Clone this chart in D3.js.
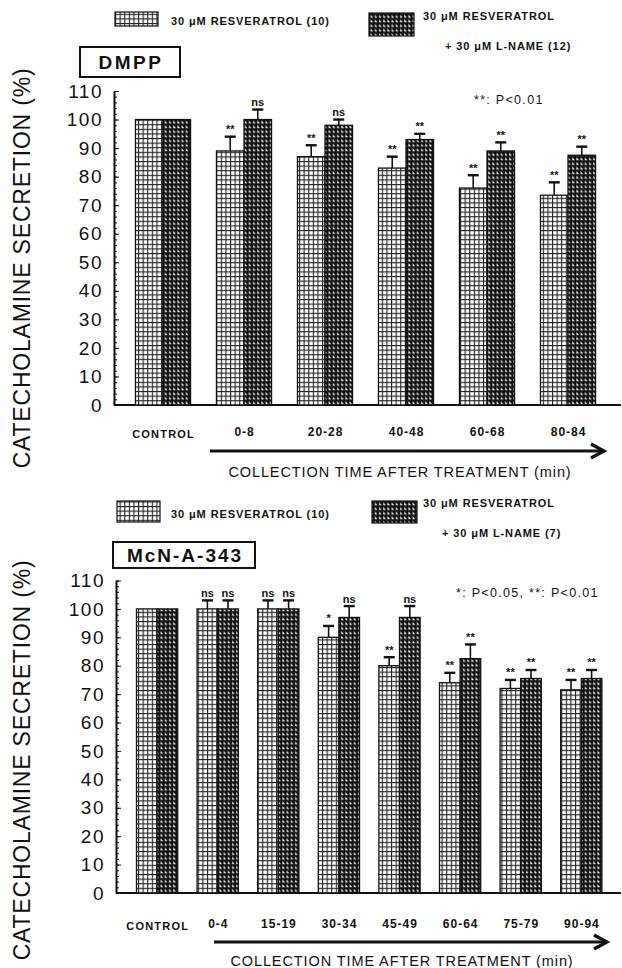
<!DOCTYPE html>
<html>
<head>
<meta charset="utf-8">
<script src="https://cdn.jsdelivr.net/npm/d3@7"></script>
<style>
  html, body { margin: 0; padding: 0; background: #fff; }
  svg { display: block; }
  text { font-family: "Liberation Sans", Arial, Helvetica, sans-serif; fill: #111; }
</style>
</head>
<body>
<svg id="chart" width="622" height="968"></svg>
<script>
// ---------------- DATA ----------------
const catsTop = ["CONTROL", "0-8", "20-28", "40-48", "60-68", "80-84"];
const resTop = [100, 89, 87, 83, 76, 73.5];
const resTopErr = [0, 5, 4, 4, 4.5, 4.5];
const resTopSig = ["", "**", "**", "**", "**", "**"];
const lnTop = [100, 100, 98, 93, 89, 87.5];
const lnTopErr = [0, 3.5, 2, 2, 3, 3];
const lnTopSig = ["", "ns", "ns", "**", "**", "**"];

const catsBot = ["CONTROL", "0-4", "15-19", "30-34", "45-49", "60-64", "75-79", "90-94"];
const resBot = [100, 100, 100, 90, 80, 74, 72, 71.5];
const resBotErr = [0, 3, 3, 4, 3, 3.5, 3, 3.5];
const resBotSig = ["", "ns", "ns", "*", "**", "**", "**", "**"];
const lnBot = [100, 100, 100, 97, 97, 82.5, 75.5, 75.5];
const lnBotErr = [0, 3, 3, 4, 4, 5, 3, 3];
const lnBotSig = ["", "ns", "ns", "ns", "ns", "**", "**", "**"];

const yMajor = [0, 10, 20, 30, 40, 50, 60, 70, 80, 90, 100, 110];
const yMinor = d3.range(0, 111, 2);

const seriesNames = ["30 μM RESVERATROL (10)", "30 μM RESVERATROL"];
const lnameTop = "+ 30 μM L-NAME (12)";
const lnameBot = "+ 30 μM L-NAME (7)";
const xTitle = "COLLECTION TIME AFTER TREATMENT (min)";
const yTitle = "CATECHOLAMINE SECRETION (%)";

// ---------------- PATTERNS ----------------
const svg = d3.select("#chart");
const defs = svg.append("defs");

const pg = defs.append("pattern").attr("id", "grid")
  .attr("patternUnits", "userSpaceOnUse").attr("width", 4.6).attr("height", 4.6);
pg.append("rect").attr("width", 4.6).attr("height", 4.6).attr("fill", "#fff");
pg.append("rect").attr("x", 0).attr("y", 0).attr("width", 1.1).attr("height", 4.6).attr("fill", "#222");
pg.append("rect").attr("x", 0).attr("y", 0).attr("width", 4.6).attr("height", 1.1).attr("fill", "#222");

const pt = defs.append("pattern").attr("id", "tri")
  .attr("patternUnits", "userSpaceOnUse").attr("width", 4.2).attr("height", 4.6);
pt.append("rect").attr("width", 4.2).attr("height", 4.6).attr("fill", "#111");
pt.append("polygon").attr("points", "1.1,1.0 1.1,3.9 3.6,3.9").attr("fill", "#fff");

// ---------------- PANEL ----------------
function panel(opt) {
  const g = svg.append("g");
  const y = d3.scaleLinear().domain([0, 110]).range([opt.y0, opt.y110]);
  const x = d3.scaleBand().domain(opt.cats).range(opt.xr)
    .paddingInner(0.32).paddingOuter(0.16);
  const xs = d3.scaleBand().domain([0, 1]).range([0, x.bandwidth()]);

  // axes
  const axMinor = d3.axisLeft(y).tickValues(yMinor).tickSizeInner(-3).tickSizeOuter(0).tickFormat("");
  const axMajor = d3.axisLeft(y).tickValues(yMajor).tickSizeInner(-5).tickSizeOuter(0).tickPadding(11);
  g.append("g").attr("transform", `translate(${opt.ax},0)`).call(axMinor);
  const gM = g.append("g").attr("transform", `translate(${opt.ax},0)`).call(axMajor);
  g.selectAll(".domain").attr("stroke", "#111").attr("stroke-width", 1.6);
  g.selectAll(".tick line").attr("stroke", "#111").attr("stroke-width", 1);
  gM.selectAll(".tick text").style("font-size", "19px").style("letter-spacing", "1.5px")
    .style("font-family", "'Liberation Sans', Arial, sans-serif").attr("fill", "#111");

  // x baseline
  g.append("line").attr("x1", opt.ax).attr("x2", 621).attr("y1", y(0)).attr("y2", y(0))
    .attr("stroke", "#111").attr("stroke-width", 1.8);

  const series = [
    { v: opt.res, e: opt.resErr, s: opt.resSig, fill: "url(#grid)" },
    { v: opt.ln, e: opt.lnErr, s: opt.lnSig, fill: "url(#tri)" }
  ];
  series.forEach((se, si) => {
    const gg = g.append("g");
    opt.cats.forEach((c, i) => {
      const bx = x(c) + xs(si), bw = xs.bandwidth();
      const top = y(se.v[i]);
      gg.append("rect").attr("x", bx).attr("y", top).attr("width", bw).attr("height", y(0) - top)
        .attr("fill", se.fill).attr("stroke", "#111").attr("stroke-width", 1.3);
      if (se.e[i] > 0) {
        const cx = bx + bw / 2, et = y(se.v[i] + se.e[i]);
        gg.append("line").attr("x1", cx).attr("x2", cx).attr("y1", top).attr("y2", et)
          .attr("stroke", "#111").attr("stroke-width", 1.6);
        gg.append("line").attr("x1", cx - 5.5).attr("x2", cx + 5.5).attr("y1", et).attr("y2", et)
          .attr("stroke", "#111").attr("stroke-width", 2.4);
        gg.append("text").attr("x", cx).attr("y", et - 3.5).attr("text-anchor", "middle")
          .style("font-size", "11px").style("font-weight", "bold").attr("fill", "#000")
          .text(se.s[i]);
      }
    });
  });

  // x labels
  opt.cats.forEach((c, i) => {
    g.append("text").attr("x", x(c) + x.bandwidth() / 2 + 0.6).attr("y", i === 0 ? opt.labY : opt.labY - 2)
      .attr("text-anchor", "middle")
      .style("font-size", i === 0 ? "11px" : "12px").style("font-weight", "bold")
      .style("letter-spacing", i === 0 ? "1.2px" : "1px")
      .text(c);
  });

  // arrow
  g.append("line").attr("x1", opt.arrX0).attr("x2", opt.arrX1 - 3).attr("y1", opt.arrY).attr("y2", opt.arrY)
    .attr("stroke", "#111").attr("stroke-width", 3);
  g.append("path").attr("d", `M${opt.arrX1 - 13},${opt.arrY - 7} L${opt.arrX1},${opt.arrY} L${opt.arrX1 - 13},${opt.arrY + 7}`)
    .attr("fill", "none").attr("stroke", "#111").attr("stroke-width", 3.2);
  g.append("text").attr("x", opt.xtX).attr("y", opt.xtY).attr("text-anchor", "middle")
    .style("font-size", "14.5px").style("letter-spacing", "0.9px").text(xTitle);

  // y title
  g.append("text").attr("transform", `translate(${opt.ytX},${opt.ytY}) rotate(-90)`)
    .attr("text-anchor", "middle").style("font-size", "23px").style("letter-spacing", "0.8px")
    .text(yTitle);

  // p-value note
  g.append("text").attr("x", opt.pX).attr("y", opt.pY).style("font-size", "12.5px")
    .style("letter-spacing", "1.3px").text(opt.pText);

  // title box
  g.append("rect").attr("x", opt.box[0]).attr("y", opt.box[1]).attr("width", opt.box[2]).attr("height", opt.box[3])
    .attr("fill", "#fff").attr("stroke", "#111").attr("stroke-width", 2);
  g.append("text").attr("x", opt.box[0] + opt.box[2] / 2 + 1).attr("y", opt.box[1] + opt.box[3] / 2 + 7)
    .attr("text-anchor", "middle").style("font-size", "19px").style("font-weight", "bold")
    .style("letter-spacing", opt.boxLs + "px").text(opt.title);

  // legend
  const L = opt.leg;
  const legTxt = (t, p) => g.append("text").attr("x", p[0]).attr("y", p[1])
    .style("font-size", "11px").style("font-weight", "bold").style("letter-spacing", "0.9px").text(t);
  g.append("rect").attr("x", L.s1[0]).attr("y", L.s1[1]).attr("width", L.s1[2]).attr("height", L.s1[3])
    .attr("fill", "url(#grid)").attr("stroke", "#111").attr("stroke-width", 1.2);
  legTxt(seriesNames[0], L.t1);
  g.append("rect").attr("x", L.s2[0]).attr("y", L.s2[1]).attr("width", L.s2[2]).attr("height", L.s2[3])
    .attr("fill", "url(#tri)").attr("stroke", "#111").attr("stroke-width", 1.2);
  legTxt(seriesNames[1], L.t2);
  legTxt(opt.lname, L.t3);
}

panel({
  cats: catsTop, res: resTop, resErr: resTopErr, resSig: resTopSig,
  ln: lnTop, lnErr: lnTopErr, lnSig: lnTopSig,
  y0: 405, y110: 91, xr: [122.5, 608.5], ax: 114,
  labY: 438, arrX0: 210, arrX1: 604, arrY: 451, xtX: 400, xtY: 477,
  ytX: 30, ytY: 268,
  pX: 474, pY: 104, pText: "**: P<0.01",
  box: [80, 47, 100, 30], title: "DMPP", boxLs: 2.5,
  lname: lnameTop,
  leg: { s1: [115, 12, 43, 14], t1: [171, 25], s2: [369, 13, 45, 23], t2: [423, 20], t3: [445, 50] }
});

panel({
  cats: catsBot, res: resBot, resErr: resBotErr, resSig: resBotSig,
  ln: lnBot, lnErr: lnBotErr, lnSig: lnBotSig,
  y0: 893, y110: 580.5, xr: [126.8, 611.6], ax: 116,
  labY: 930, arrX0: 214, arrX1: 607, arrY: 942, xtX: 402, xtY: 966,
  ytX: 30, ytY: 760,
  pX: 456, pY: 597, pText: "*: P<0.05, **: P<0.01",
  box: [113, 542, 142, 26], title: "McN-A-343", boxLs: 2,
  lname: lnameBot,
  leg: { s1: [117, 501, 43, 21], t1: [171, 518], s2: [372, 501, 45, 22], t2: [423, 507], t3: [442, 537] }
});
</script>
</body>
</html>
